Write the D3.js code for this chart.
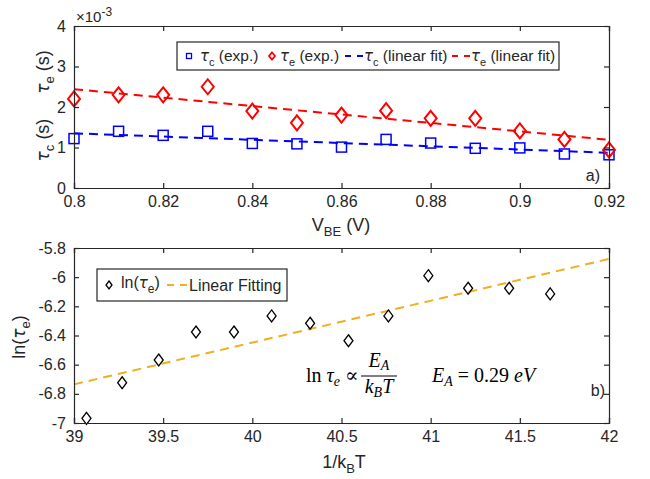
<!DOCTYPE html>
<html>
<head>
<meta charset="utf-8">
<script src="https://cdn.jsdelivr.net/npm/d3@7"></script>
<style>
  body { margin: 0; background: #fff; }
  svg { font-family: "Liberation Sans", Arial, sans-serif; }
  svg text { fill: #262626; }
</style>
</head>
<body>
<svg id="chart" width="650" height="479"></svg>
<script>
// ---- panel a) data (tau in units of 1e-3 s) ----
const vbe = [0.80, 0.81, 0.82, 0.83, 0.84, 0.85, 0.86, 0.87, 0.88, 0.89, 0.90, 0.91, 0.92];
const tauC = [1.22, 1.40, 1.30, 1.40, 1.10, 1.09, 1.01, 1.20, 1.11, 0.98, 0.99, 0.84, 0.82];
const tauE = [2.20, 2.30, 2.30, 2.50, 1.90, 1.61, 1.80, 1.91, 1.72, 1.72, 1.41, 1.20, 0.94];
const fitX = [0.80, 0.92];
const fitC = [1.35, 0.87];
const fitE = [2.44, 1.19];
const xTicksA = [0.8, 0.82, 0.84, 0.86, 0.88, 0.9, 0.92];
const yTicksA = [0, 1, 2, 3, 4];

// ---- panel b) data ----
const invKT = [39.07, 39.27, 39.475, 39.684, 39.897, 40.108, 40.324, 40.539, 40.763, 40.987, 41.21, 41.44, 41.67];
const lnTau = [-6.968, -6.724, -6.568, -6.376, -6.376, -6.266, -6.316, -6.436, -6.266, -5.99, -6.076, -6.076, -6.115];
const fitBX = [39, 42];
const fitBY = [-6.735, -5.875];
const xTicksB = [39, 39.5, 40, 40.5, 41, 41.5, 42];
const yTicksB = [-7, -6.8, -6.6, -6.4, -6.2, -6, -5.8];

const svg = d3.select('#chart');
const axisCol = '#262626';
const blue = '#0000ff', red = '#ff0000', orange = '#EDB120';
const serif = '"Liberation Serif", "DejaVu Serif", serif';
const greek = '"DejaVu Sans", sans-serif';

// plain hyphen minus like the original figure
const fmt = d => String(+d.toFixed(2));

// draws a boxed axes with ticks on all four sides
function frame(g, x, y, xt, yt) {
    const [x0, x1] = x.range();
    const [y0, y1] = y.range();
    g.append('g').attr('transform', `translate(0,${y0})`)
        .call(d3.axisBottom(x).tickValues(xt).tickSize(-5).tickPadding(8).tickFormat(fmt));
    g.append('g').attr('transform', `translate(0,${y1})`)
        .call(d3.axisTop(x).tickValues(xt).tickSize(-5).tickFormat(''));
    g.append('g').attr('transform', `translate(${x0},0)`)
        .call(d3.axisLeft(y).tickValues(yt).tickSize(-5).tickPadding(8).tickFormat(fmt));
    g.append('g').attr('transform', `translate(${x1},0)`)
        .call(d3.axisRight(y).tickValues(yt).tickSize(-5).tickFormat(''));
    g.selectAll('.domain').attr('stroke', axisCol).attr('stroke-width', 1.2);
    g.selectAll('.tick line').attr('stroke', axisCol).attr('stroke-width', 1.2);
    g.selectAll('.tick text').attr('font-size', 16).style('fill', axisCol)
        .style('font-family', '"Liberation Sans", Arial, sans-serif');
}

function diamond(w, h) {
    return `M0,${-h/2}L${w/2},0L0,${h/2}L${-w/2},0Z`;
}

// ================= panel a =================
const xa = d3.scaleLinear().domain([0.8, 0.92]).range([74, 609]);
const ya = d3.scaleLinear().domain([0, 4]).range([188, 26]);
const ga = svg.append('g');

const line = (xs, ys) => d3.line().x(d => xs(d[0])).y(d => ys(d[1]));

ga.append('path').datum(d3.zip(fitX, fitC))
    .attr('d', line(xa, ya)).attr('fill', 'none').attr('stroke', blue)
    .attr('stroke-width', 2).attr('stroke-dasharray', '9,6');
ga.append('path').datum(d3.zip(fitX, fitE))
    .attr('d', line(xa, ya)).attr('fill', 'none').attr('stroke', red)
    .attr('stroke-width', 2).attr('stroke-dasharray', '9,6');

ga.selectAll('.sq').data(d3.zip(vbe, tauC)).enter()
    .append('rect')
    .attr('x', d => xa(d[0]) - 5).attr('y', d => ya(d[1]) - 5)
    .attr('width', 10).attr('height', 10)
    .attr('fill', 'none').attr('stroke', blue).attr('stroke-width', 1.5);

ga.selectAll('.dm').data(d3.zip(vbe, tauE)).enter()
    .append('path')
    .attr('transform', d => `translate(${xa(d[0])},${ya(d[1])})`)
    .attr('d', diamond(12, 15))
    .attr('fill', 'none').attr('stroke', red).attr('stroke-width', 2);

frame(ga, xa, ya, xTicksA, yTicksA);

// exponent label
const ex = ga.append('text').attr('x', 76).attr('y', 22).attr('font-size', 15);
ex.append('tspan').text('\u00d710');
ex.append('tspan').attr('dy', -6).attr('font-size', 12).text('-3');

// y labels
const ylab = (g, x, y, sub) => {
    const t = g.append('text').attr('transform', `translate(${x},${y}) rotate(-90)`)
        .attr('text-anchor', 'middle').attr('font-size', 18);
    t.append('tspan').style('font-style', 'italic').style('font-family', greek).attr('font-size', 17).text('\u03c4');
    t.append('tspan').attr('dy', 5).attr('font-size', 13).text(sub);
    t.append('tspan').attr('dy', -5).text(' (s)');
};
ylab(ga, 49, 72, 'e');
ylab(ga, 49, 140, 'c');

// x label
const xl = ga.append('text').attr('x', 341).attr('y', 231).attr('text-anchor', 'middle').attr('font-size', 18);
xl.append('tspan').text('V');
xl.append('tspan').attr('dy', 5).attr('font-size', 13).text('BE');
xl.append('tspan').attr('dy', -5).text(' (V)');

ga.append('text').attr('x', 600).attr('y', 181).attr('text-anchor', 'end').attr('font-size', 16).text('a)');

// legend a
const la = ga.append('g');
la.append('rect').attr('x', 177).attr('y', 42).attr('width', 382).attr('height', 28)
    .attr('fill', '#fff').attr('stroke', axisCol).attr('stroke-width', 1.2);
const legItem = (x, sub, rest) => {
    const t = la.append('text').attr('x', x).attr('y', 61).attr('font-size', 15.5);
    t.append('tspan').style('font-style', 'italic').style('font-family', greek).attr('font-size', 15).text('\u03c4');
    t.append('tspan').attr('dy', 5).attr('font-size', 11).text(sub);
    t.append('tspan').attr('dy', -5).text(rest);
};
la.append('rect').attr('x', 186.5).attr('y', 53.5).attr('width', 5).attr('height', 5)
    .attr('fill', 'none').attr('stroke', blue).attr('stroke-width', 1.3);
legItem(200, 'c', ' (exp.)');
la.append('path').attr('transform', 'translate(272,56)').attr('d', diamond(6, 7))
    .attr('fill', 'none').attr('stroke', red).attr('stroke-width', 1.8);
legItem(280, 'e', ' (exp.)');
la.append('line').attr('x1', 345).attr('x2', 363).attr('y1', 56).attr('y2', 56)
    .attr('stroke', blue).attr('stroke-width', 2).attr('stroke-dasharray', '6,6');
legItem(364, 'c', ' (linear fit)');
la.append('line').attr('x1', 452).attr('x2', 470).attr('y1', 56).attr('y2', 56)
    .attr('stroke', red).attr('stroke-width', 2).attr('stroke-dasharray', '6,6');
legItem(471, 'e', ' (linear fit)');

// ================= panel b =================
const xb = d3.scaleLinear().domain([39, 42]).range([74, 609]);
const yb = d3.scaleLinear().domain([-7, -5.8]).range([423, 248]);
const gb = svg.append('g');

gb.append('path').datum(d3.zip(fitBX, fitBY))
    .attr('d', line(xb, yb)).attr('fill', 'none').attr('stroke', orange)
    .attr('stroke-width', 2).attr('stroke-dasharray', '9,6');

gb.selectAll('.bd').data(d3.zip(invKT, lnTau)).enter()
    .append('path')
    .attr('transform', d => `translate(${xb(d[0])},${yb(d[1])})`)
    .attr('d', diamond(9, 12))
    .attr('fill', 'none').attr('stroke', '#000').attr('stroke-width', 1.3);

frame(gb, xb, yb, xTicksB, yTicksB);

// y label
const yl = gb.append('text').attr('transform', 'translate(25,337) rotate(-90)')
    .attr('text-anchor', 'middle').attr('font-size', 18);
yl.append('tspan').text('ln(');
yl.append('tspan').style('font-style', 'italic').style('font-family', greek).attr('font-size', 17).text('\u03c4');
yl.append('tspan').attr('dy', 5).attr('font-size', 13).text('e');
yl.append('tspan').attr('dy', -5).text(')');

// x label
const xl2 = gb.append('text').attr('x', 344).attr('y', 468).attr('text-anchor', 'middle').attr('font-size', 18);
xl2.append('tspan').text('1/k');
xl2.append('tspan').attr('dy', 5).attr('font-size', 13).text('B');
xl2.append('tspan').attr('dy', -5).text('T');

gb.append('text').attr('x', 605).attr('y', 396).attr('text-anchor', 'end').attr('font-size', 16).text('b)');

// equation (serif, like the original's math font)
const eq = gb.append('text').attr('x', 306).attr('y', 382).attr('font-size', 20)
    .style('font-family', serif).style('fill', '#000');
eq.append('tspan').text('ln ');
eq.append('tspan').style('font-style', 'italic').text('\u03c4');
eq.append('tspan').attr('dy', 4).attr('font-size', 14).style('font-style', 'italic').text('e');
eq.append('tspan').attr('dy', -4).text(' \u221d');
const num = gb.append('text').attr('x', 379).attr('y', 367).attr('text-anchor', 'middle').attr('font-size', 20)
    .style('font-family', serif).style('font-style', 'italic').style('fill', '#000');
num.append('tspan').text('E');
num.append('tspan').attr('dy', 3).attr('font-size', 14).text('A');
gb.append('line').attr('x1', 361).attr('x2', 397).attr('y1', 376).attr('y2', 376)
    .attr('stroke', '#000').attr('stroke-width', 1);
const den = gb.append('text').attr('x', 379).attr('y', 393).attr('text-anchor', 'middle').attr('font-size', 20)
    .style('font-family', serif).style('font-style', 'italic').style('fill', '#000');
den.append('tspan').text('k');
den.append('tspan').attr('dy', 4).attr('font-size', 14).text('B');
den.append('tspan').attr('dy', -4).text('T');
const ea = gb.append('text').attr('x', 432).attr('y', 382).attr('font-size', 20)
    .style('font-family', serif).style('fill', '#000');
ea.append('tspan').style('font-style', 'italic').text('E');
ea.append('tspan').attr('dy', 4).attr('font-size', 14).style('font-style', 'italic').text('A');
ea.append('tspan').attr('dy', -4).text(' = 0.29 ');
ea.append('tspan').style('font-style', 'italic').text('eV');

// legend b
const lb = gb.append('g');
lb.append('rect').attr('x', 97).attr('y', 269).attr('width', 190).attr('height', 32)
    .attr('fill', '#fff').attr('stroke', axisCol).attr('stroke-width', 1.2);
lb.append('path').attr('transform', 'translate(109,285)').attr('d', diamond(6, 8))
    .attr('fill', 'none').attr('stroke', '#000').attr('stroke-width', 1.3);
const lt = lb.append('text').attr('x', 121).attr('y', 288).attr('font-size', 16);
lt.append('tspan').text('ln(');
lt.append('tspan').style('font-style', 'italic').style('font-family', greek).attr('font-size', 15).text('\u03c4');
lt.append('tspan').attr('dy', 5).attr('font-size', 12).text('e');
lt.append('tspan').attr('dy', -5).text(')');
lb.append('line').attr('x1', 167).attr('x2', 187).attr('y1', 285).attr('y2', 285)
    .attr('stroke', orange).attr('stroke-width', 2).attr('stroke-dasharray', '7,6');
lb.append('text').attr('x', 189).attr('y', 291).attr('font-size', 16).text('Linear Fitting');
</script>
</body>
</html>
